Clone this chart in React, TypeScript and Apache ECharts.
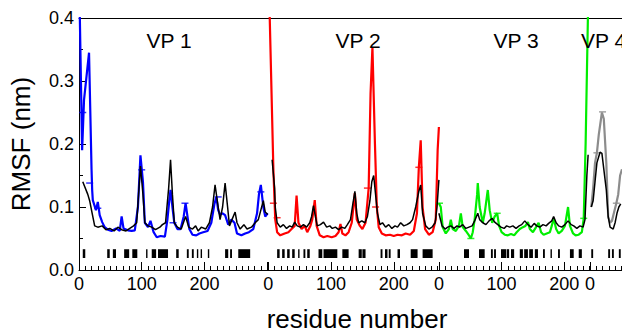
import React, { useEffect, useRef } from "react";
import * as echarts from "echarts";

const FONT = '"Liberation Sans", Arial, Helvetica, sans-serif';

// panel definitions
const panelNames = ["VP 1", "VP 2", "VP 3", "VP 4"];
const panelAxisMax = [302, 272, 241, 100];
const panelLabelLimit = [200, 200, 200, 0];
const panelColours = ["#0000ff", "#ff0000", "#00ee00", "#8c8c8c"];
const yTickValues = [0, 0.1, 0.2, 0.3, 0.4];

// RMSF profiles [residue, nm]
const vp1Colour = [
  [1, 0.42], [5, 0.19], [8, 0.27], [16, 0.345], [20, 0.16], [21, 0.127], [22, 0.111], [27, 0.095],
  [30, 0.108], [33, 0.087], [37, 0.076], [41, 0.068], [46, 0.064], [52, 0.062], [59, 0.066], [65, 0.062],
  [68, 0.085], [71, 0.066], [78, 0.063], [84, 0.062], [89, 0.063], [94, 0.1], [98, 0.182], [102, 0.14],
  [105, 0.075], [110, 0.068], [114, 0.078], [119, 0.06], [124, 0.052], [130, 0.054], [137, 0.053],
  [141, 0.08], [144, 0.11], [146, 0.127], [149, 0.1], [152, 0.075], [157, 0.065], [162, 0.065],
  [167, 0.085], [170, 0.106], [173, 0.085], [176, 0.065], [181, 0.056], [187, 0.055], [192, 0.058],
  [198, 0.06], [205, 0.062], [211, 0.075], [216, 0.105], [219, 0.116], [222, 0.095], [225, 0.088],
  [229, 0.09], [233, 0.087], [238, 0.072], [243, 0.08], [248, 0.075], [252, 0.058], [259, 0.055],
  [265, 0.058], [271, 0.06], [278, 0.065], [284, 0.09], [287, 0.12], [290, 0.135], [294, 0.1],
  [297, 0.085], [301, 0.09],
];
const vp1Black = [
  [6, 0.14], [14, 0.12], [17, 0.11], [21, 0.09], [25, 0.07], [30, 0.068], [37, 0.07], [43, 0.064],
  [49, 0.066], [56, 0.062], [62, 0.068], [68, 0.064], [75, 0.062], [81, 0.066], [87, 0.07], [92, 0.075],
  [95, 0.12], [98, 0.165], [102, 0.12], [105, 0.075], [110, 0.07], [116, 0.068], [122, 0.064],
  [129, 0.068], [133, 0.072], [138, 0.075], [143, 0.13], [146, 0.175], [149, 0.12], [152, 0.075],
  [157, 0.068], [163, 0.065], [170, 0.085], [175, 0.068], [181, 0.065], [186, 0.07], [190, 0.062],
  [195, 0.068], [202, 0.065], [208, 0.075], [213, 0.1], [217, 0.135], [222, 0.1], [225, 0.08],
  [229, 0.1], [233, 0.138], [237, 0.1], [240, 0.07], [244, 0.08], [249, 0.092], [252, 0.075],
  [257, 0.065], [263, 0.072], [268, 0.065], [275, 0.068], [281, 0.075], [286, 0.08], [290, 0.095],
  [294, 0.11], [297, 0.092], [301, 0.088],
];
const vp2Colour = [
  [1, 0.45], [8, 0.16], [10, 0.106], [11, 0.08], [14, 0.06], [19, 0.055], [26, 0.058], [32, 0.06],
  [37, 0.065], [42, 0.07], [45, 0.118], [48, 0.075], [53, 0.065], [58, 0.07], [62, 0.06], [67, 0.07],
  [70, 0.08], [74, 0.111], [77, 0.07], [82, 0.055], [88, 0.052], [94, 0.054], [101, 0.052], [107, 0.054],
  [112, 0.06], [115, 0.073], [118, 0.058], [123, 0.055], [128, 0.06], [133, 0.075], [138, 0.122],
  [141, 0.08], [146, 0.07], [150, 0.065], [155, 0.075], [160, 0.13], [163, 0.28], [166, 0.354],
  [170, 0.2], [173, 0.1], [176, 0.068], [181, 0.058], [187, 0.055], [194, 0.056], [200, 0.054],
  [206, 0.056], [213, 0.055], [219, 0.058], [226, 0.056], [232, 0.062], [237, 0.09], [240, 0.163],
  [243, 0.206], [246, 0.1], [250, 0.065], [256, 0.056], [262, 0.06], [267, 0.08], [270, 0.19], [272, 0.227],
];
const vp2Black = [
  [6, 0.175], [10, 0.13], [11, 0.1], [14, 0.075], [19, 0.068], [24, 0.072], [29, 0.066], [34, 0.07],
  [38, 0.068], [42, 0.076], [46, 0.07], [51, 0.068], [56, 0.072], [61, 0.068], [66, 0.075], [69, 0.085],
  [72, 0.102], [75, 0.085], [78, 0.07], [83, 0.072], [88, 0.076], [93, 0.068], [98, 0.07], [102, 0.066],
  [107, 0.068], [112, 0.064], [117, 0.068], [122, 0.066], [126, 0.072], [131, 0.08], [134, 0.1],
  [138, 0.125], [141, 0.09], [144, 0.075], [149, 0.078], [154, 0.075], [158, 0.085], [162, 0.11],
  [165, 0.14], [168, 0.15], [171, 0.12], [174, 0.09], [178, 0.072], [182, 0.075], [187, 0.068],
  [192, 0.072], [197, 0.066], [202, 0.07], [206, 0.068], [211, 0.075], [216, 0.07], [221, 0.072],
  [226, 0.075], [230, 0.08], [235, 0.1], [240, 0.125], [243, 0.135], [246, 0.09], [251, 0.07],
  [256, 0.065], [261, 0.068], [266, 0.075], [269, 0.1], [272, 0.143],
];
const vp3Colour = [
  [0, 0.106], [3, 0.1], [6, 0.068], [11, 0.058], [16, 0.065], [19, 0.08], [22, 0.065], [27, 0.062],
  [32, 0.07], [35, 0.09], [38, 0.068], [43, 0.062], [48, 0.055], [51, 0.05], [54, 0.06], [57, 0.08],
  [61, 0.12], [62, 0.138], [65, 0.1], [70, 0.075], [73, 0.09], [77, 0.12], [78, 0.127], [81, 0.095],
  [85, 0.075], [89, 0.085], [93, 0.09], [96, 0.07], [100, 0.06], [105, 0.056], [110, 0.055],
  [115, 0.057], [120, 0.055], [124, 0.06], [129, 0.065], [134, 0.068], [138, 0.07], [142, 0.076],
  [145, 0.065], [150, 0.06], [155, 0.068], [159, 0.075], [163, 0.06], [167, 0.056], [172, 0.058],
  [177, 0.06], [180, 0.07], [183, 0.082], [187, 0.065], [191, 0.058], [196, 0.062], [201, 0.07],
  [206, 0.1], [209, 0.07], [214, 0.058], [218, 0.055], [223, 0.056], [228, 0.06], [231, 0.082],
  [234, 0.2], [238, 0.42],
];
const vp3Black = [
  [0, 0.09], [5, 0.07], [10, 0.065], [14, 0.068], [19, 0.07], [24, 0.066], [29, 0.07], [33, 0.068],
  [38, 0.072], [43, 0.066], [48, 0.068], [53, 0.07], [57, 0.078], [62, 0.09], [65, 0.08], [70, 0.075],
  [75, 0.072], [80, 0.078], [85, 0.082], [89, 0.076], [94, 0.072], [99, 0.068], [104, 0.066],
  [108, 0.07], [113, 0.068], [118, 0.07], [123, 0.066], [128, 0.07], [132, 0.072], [137, 0.078],
  [142, 0.072], [147, 0.068], [152, 0.074], [156, 0.07], [161, 0.068], [166, 0.072], [171, 0.07],
  [175, 0.074], [180, 0.078], [183, 0.085], [187, 0.075], [191, 0.07], [196, 0.068], [201, 0.072],
  [206, 0.078], [211, 0.072], [215, 0.07], [220, 0.066], [225, 0.07], [230, 0.068], [233, 0.08],
  [236, 0.15], [238, 0.183],
];
const vp4Colour = [
  [2, 0.1], [5, 0.13], [8, 0.17], [11, 0.186], [14, 0.215], [19, 0.25], [22, 0.24], [26, 0.17],
  [29, 0.084], [32, 0.075], [35, 0.078], [38, 0.09], [42, 0.106], [45, 0.12], [48, 0.15], [51, 0.16],
];
const vp4Black = [
  [2, 0.1], [5, 0.11], [8, 0.14], [11, 0.17], [16, 0.187], [19, 0.185], [22, 0.16], [26, 0.127],
  [29, 0.085], [32, 0.068], [37, 0.065], [40, 0.075], [43, 0.09], [46, 0.1], [49, 0.105],
];

// error-bar marks on the coloured profiles [residue, nm]
const vp1ErrorMarks = [[6, 0.25], [17, 0.138], [30, 0.098], [100, 0.159], [150, 0.075], [169, 0.106], [222, 0.116], [290, 0.124]];
const vp2ErrorMarks = [[8, 0.106], [14, 0.083], [158, 0.13], [171, 0.1], [240, 0.163]];
const vp3ErrorMarks = [[1, 0.106], [51, 0.05], [93, 0.09], [231, 0.082]];
const vp4ErrorMarks = [[11, 0.186], [20, 0.251], [42, 0.106]];

// secondary-structure residue ranges [start, end]
const vp1Structure = [
  [6, 10], [45, 49], [54, 59], [72, 80], [85, 93], [107, 108.5], [116, 123], [126, 142], [155, 159],
  [172, 175], [180, 183], [188, 190], [194, 196], [205.5, 206.5], [233, 238], [241, 244], [254, 273],
];
const vp2Structure = [
  [14, 18], [22, 26], [30, 34], [38, 42], [47.5, 48.5], [56, 59], [62, 66], [80, 86], [88, 110],
  [118, 128], [144, 149], [150, 155], [179, 182], [186, 190], [192, 195], [206, 210], [227, 238], [246, 262],
];
const vp3Structure = [
  [40, 48], [64, 73], [83, 86], [88, 91], [99, 107], [108, 112], [115, 120], [129, 134], [136, 142],
  [144, 150], [153, 158], [166, 169], [178, 179.2], [190, 193], [209, 215], [223, 228],
];
const vp4Structure = [[2, 5], [29, 32], [35, 38], [46, 49]];

const colourProfiles = [vp1Colour, vp2Colour, vp3Colour, vp4Colour];
const blackProfiles = [vp1Black, vp2Black, vp3Black, vp4Black];
const errorMarks = [vp1ErrorMarks, vp2ErrorMarks, vp3ErrorMarks, vp4ErrorMarks];
const structures = [vp1Structure, vp2Structure, vp3Structure, vp4Structure];

const STRUCT_TOP = 0.033;
const STRUCT_BOTTOM = 0.019;

export default function App() {
  const ref = useRef<HTMLDivElement>(null);

  useEffect(() => {
    if (!ref.current) return;
    const chart = echarts.init(ref.current, undefined, { renderer: "svg" });

    const PX = 0.627;
    const LEFT = 79;
    const TOP = 18;
    const HEIGHT = 252;
    const lengths = [302, 272, 241];
    const lefts: number[] = [LEFT];
    for (let i = 0; i < 3; i++) lefts.push(lefts[i] + lengths[i] * PX);

    const grids = panelNames.map((_, i) => ({
      left: lefts[i],
      top: TOP,
      width: panelAxisMax[i] * PX,
      height: HEIGHT,
    }));

    const bottomAxes = panelNames.map((_, i) => ({
      type: "value",
      gridIndex: i,
      position: "bottom",
      min: 0,
      max: panelAxisMax[i],
      interval: 100,
      axisLine: { show: true, onZero: false, lineStyle: { color: "#000", width: 1 } },
      axisTick: { show: true, inside: true, length: 8, lineStyle: { color: "#000", width: 1 } },
      minorTick: { show: true, splitNumber: 10, length: 4, lineStyle: { color: "#000", width: 1 } },
      splitLine: { show: false },
      minorSplitLine: { show: false },
      axisLabel: {
        show: true,
        fontSize: 18,
        fontFamily: FONT,
        color: "#000",
        margin: 5,
        formatter: (v: number) => (v % 100 === 0 && v <= panelLabelLimit[i] ? String(v) : ""),
      },
    }));
    const topAxes = panelNames.map((_, i) => ({
      type: "value",
      gridIndex: i,
      position: "top",
      min: 0,
      max: panelAxisMax[i],
      axisLine: { show: true, onZero: false, lineStyle: { color: "#000", width: 1 } },
      axisTick: { show: false },
      axisLabel: { show: false },
      splitLine: { show: false },
    }));

    const yAxes = panelNames.map((_, i) =>
      i === 0
        ? {
            type: "value",
            gridIndex: 0,
            min: yTickValues[0],
            max: yTickValues[yTickValues.length - 1],
            interval: 0.1,
            axisLine: { show: true, lineStyle: { color: "#000", width: 1 } },
            axisTick: { show: true, inside: true, length: 7, lineStyle: { color: "#000" } },
            minorTick: { show: true, splitNumber: 2, length: 4, lineStyle: { color: "#000" } },
            splitLine: { show: false },
            axisLabel: {
              fontSize: 18,
              fontFamily: FONT,
              color: "#000",
              margin: 5,
              formatter: (v: number) => v.toFixed(1),
            },
            name: "RMSF (nm)",
            nameLocation: "middle",
            nameGap: 45,
            nameRotate: 90,
            nameTextStyle: { fontSize: 26, fontFamily: FONT, color: "#000" },
          }
        : {
            type: "value",
            gridIndex: i,
            min: 0,
            max: 0.4,
            show: false,
          }
    );

    const series: any[] = [];
    panelNames.forEach((_, i) => {
      series.push({
        type: "line",
        xAxisIndex: i,
        yAxisIndex: i,
        data: colourProfiles[i],
        showSymbol: false,
        clip: true,
        lineStyle: { color: panelColours[i], width: 2.2 },
        itemStyle: { color: panelColours[i] },
        z: 2,
      });
      series.push({
        type: "scatter",
        xAxisIndex: i,
        yAxisIndex: i,
        data: errorMarks[i],
        symbol: "rect",
        symbolSize: [7, 1.5],
        itemStyle: { color: panelColours[i] },
        z: 3,
      });
      series.push({
        type: "line",
        xAxisIndex: i,
        yAxisIndex: i,
        data: blackProfiles[i],
        showSymbol: false,
        clip: true,
        lineStyle: { color: "#000", width: 1.5 },
        itemStyle: { color: "#000" },
        z: 4,
      });
      series.push({
        type: "custom",
        xAxisIndex: i,
        yAxisIndex: i,
        data: structures[i],
        encode: { x: [0, 1] },
        clip: true,
        renderItem: (params: any, api: any) => {
          const a = api.coord([api.value(0), STRUCT_TOP]);
          const b = api.coord([api.value(1), STRUCT_BOTTOM]);
          return {
            type: "rect",
            shape: { x: a[0], y: a[1], width: Math.max(b[0] - a[0], 1.4), height: b[1] - a[1] },
            style: { fill: "#000" },
          };
        },
        z: 5,
      });
    });

    const titleX = [169, 358, 516, 581];
    const graphics: any[] = panelNames.map((name, i) => ({
      type: "text",
      x: titleX[i],
      y: 40,
      style: {
        text: name,
        fontSize: 21,
        fontFamily: FONT,
        fill: "#000",
        align: i === 3 ? "left" : "center",
        verticalAlign: "middle",
      },
      z: 10,
    }));
    graphics.push({
      type: "text",
      x: 357,
      y: 319,
      style: {
        text: "residue number",
        fontSize: 26,
        fontFamily: FONT,
        fill: "#000",
        align: "center",
        verticalAlign: "middle",
      },
    });

    chart.setOption({
      animation: false,
      backgroundColor: "#fff",
      grid: grids,
      xAxis: [...bottomAxes, ...topAxes],
      yAxis: yAxes,
      series,
      graphic: graphics,
    });

    return () => chart.dispose();
  }, []);

  return (
    <div
      style={{ position: "fixed", left: 0, top: 0, width: 622, height: 332, overflow: "hidden", background: "#fff" }}
    >
      <div ref={ref} style={{ width: 660, height: 332 }} />
    </div>
  );
}
